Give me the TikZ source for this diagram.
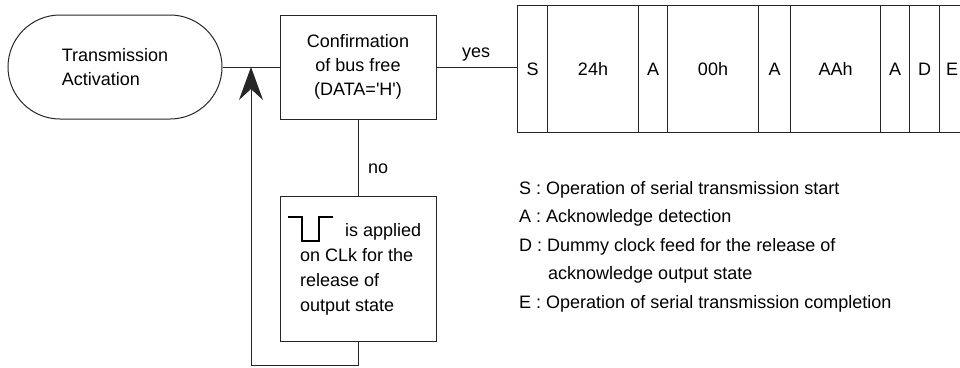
\documentclass[tikz,border=0pt]{standalone}
\usepackage{fontspec}
\setmainfont{Liberation Sans}
\usetikzlibrary{arrows.meta,shapes.misc}
\begin{document}
\begin{tikzpicture}[x=1pt,y=-1pt,
  every node/.style={font=\fontsize{18}{24}\selectfont, inner sep=0pt},
  ln/.style={line width=1pt, draw=black!85},
  cell/.style={ln, minimum height=127pt, anchor=north west},
  box/.style={ln, minimum width=156pt},
  txt/.style={anchor=base west},
  tip/.style={-{Stealth[length=33pt,width=24pt,inset=11pt]}}]
\clip (0,0) rectangle (960,367);
% start
\node[ln, rounded rectangle, minimum width=214pt, minimum height=104pt, align=left] (act) at (115,67) {Transmission\\Activation};
% bus free check
\node[box, minimum height=104pt, align=center] (conf) at (358,67) {Confirmation\\of bus free\\(DATA=\textquotesingle H\textquotesingle)};
% frame cells
\node[cell, minimum width=30pt] (cS) at (517,5) {S};
\node[cell, minimum width=91pt] (c24) at (547,5) {24h};
\node[cell, minimum width=29pt] (cA1) at (638,5) {A};
\node[cell, minimum width=91pt] (c00) at (667,5) {00h};
\node[cell, minimum width=32pt] (cA2) at (758,5) {A};
\node[cell, minimum width=90pt] (cAA) at (790,5) {AAh};
\node[cell, minimum width=29pt] (cA3) at (880,5) {A};
\node[cell, minimum width=30pt] (cD) at (909,5) {D};
\node[cell, minimum width=25pt] (cE) at (939,5) {E};
% release box
\node[box, minimum height=145pt] (rel) at (358,268.5) {};
\draw[line width=2.6pt] (288,217) -- (302,217) -- (302,241) -- (319,241) -- (319,217) -- (333,217);
\node[txt] (r1) at (345,236) {is applied};
\node[txt] (r2) at (300,261) {on CLk for the};
\node[txt] (r3) at (300,286) {release of};
\node[txt] (r4) at (300,311) {output state};
% connectors
\coordinate (lb) at (251,365);
\draw[ln] (act.east) -- (conf.west);
\draw[ln] (conf.east) -- (conf.east -| cS.west);
\node[anchor=base] (yes) at (476,57) {yes};
\draw[ln] (conf.south) -- (rel.north);
\node[txt] (no) at (368,173) {no};
\draw[ln, tip] (rel.south) |- (lb) -- (lb |- act.east);
% legend
\node[txt] (l1) at (519,194) {S : Operation of serial transmission start};
\node[txt] (l2) at (519,222.5) {A : Acknowledge detection};
\node[txt] (l3) at (519,251) {D : Dummy clock feed for the release of};
\node[txt] (l4) at (548,279.5) {acknowledge output state};
\node[txt] (l5) at (519,308) {E : Operation of serial transmission completion};
\end{tikzpicture}
\end{document}
